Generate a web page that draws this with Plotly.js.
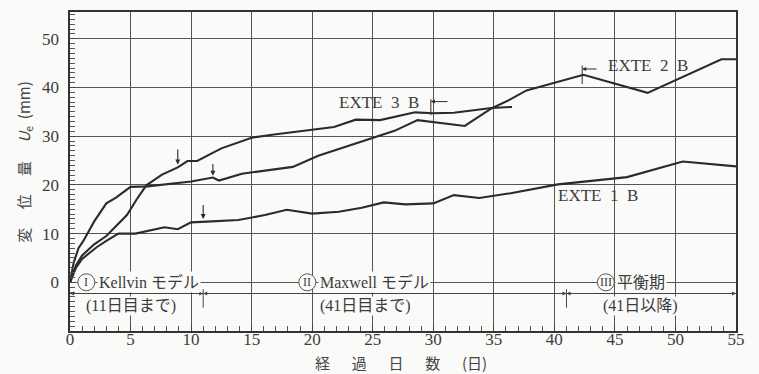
<!DOCTYPE html>
<html>
<head>
<meta charset="utf-8">
<script src="https://cdn.plot.ly/plotly-3.0.1.min.js"></script>
<style>
  html, body { margin: 0; padding: 0; background: #fafaf8; }
  #chart { width: 759px; height: 374px; }
</style>
</head>
<body>
<div id="chart"></div>
<script>
// Elapsed days and displacement U_e (mm) for each extensometer
const days1 = [0, 0.5, 1, 2.2, 3, 4, 5.4, 7.8, 8.9, 10, 11.7, 13.9, 16.1, 17.9, 20, 22.2, 24.1, 25.9, 27.7, 30, 31.7, 33.8, 36.4, 40.3, 46, 50.6, 55];
const disp1 = [0, 3, 4.8, 7.2, 8.5, 10, 10, 11.3, 10.9, 12.3, 12.5, 12.8, 13.8, 14.9, 14.1, 14.5, 15.3, 16.4, 16.0, 16.2, 17.9, 17.3, 18.3, 20.1, 21.6, 24.8, 23.8];

const days2 = [0, 0.3, 0.7, 1.1, 2, 3, 3.8, 5, 6.4, 7.8, 10, 11.8, 12.3, 14.2, 16.1, 18.4, 20.5, 23.3, 26, 26.8, 28.7, 30.4, 32.6, 34.8, 36.4, 37.7, 42.4, 47.7, 53.8, 55];
const disp2 = [0, 4, 7, 8.5, 12.5, 16.2, 17.4, 19.6, 19.7, 20.1, 20.7, 21.5, 20.9, 22.3, 22.9, 23.7, 26.0, 28.3, 30.5, 31.1, 33.3, 32.8, 32.1, 35.7, 37.6, 39.4, 42.6, 38.9, 45.8, 45.8];

const days3 = [0, 0.5, 1, 2, 3, 4.2, 4.7, 5.5, 6.3, 7.6, 8.9, 9.7, 10.5, 12.5, 15, 16.7, 20, 21.8, 23.6, 25.6, 28.5, 30, 31.7, 34.8, 36.5];
const disp3 = [0, 3.5, 5.5, 7.8, 9.5, 12.5, 13.8, 17, 19.9, 22.1, 23.6, 24.9, 24.9, 27.5, 29.7, 30.3, 31.4, 31.9, 33.4, 33.3, 34.9, 34.7, 34.8, 35.8, 36.0];

const seriesNames = ['EXTE 1 B', 'EXTE 2 B', 'EXTE 3 B'];
const xTicks = [0, 5, 10, 15, 20, 25, 30, 35, 40, 45, 50, 55];
const yTicks = [0, 10, 20, 30, 40, 50];

// Model-change markers on each curve: [day, arrow tip, arrow tail]
const changeMarks = [[8.9, 24.2, 27.6], [11.8, 21.9, 24.6], [11.0, 13.0, 16.2]];

// Period boundaries (days) and period labels
const periodBounds = [0, 11, 41, 55];
const periodNumerals = ['I', 'II', 'III'];
const periodNames = ['Kellvin モデル', 'Maxwell モデル', '平衡期'];
const periodRanges = ['(11日目まで)', '(41日目まで)', '(41日以降)'];

const INK = '#2b2b2b';
const TXT = '#3c3c3c';
const BG = '#fafaf8';
const SERIF = 'Liberation Serif, Noto Sans CJK JP, serif';
const GOTHIC = 'Noto Sans CJK JP, sans-serif';

const lineStyle = { color: INK, width: 2.1 };
const traces = [
  { x: days1, y: disp1, name: seriesNames[0], mode: 'lines', line: lineStyle },
  { x: days2, y: disp2, name: seriesNames[1], mode: 'lines', line: lineStyle },
  { x: days3, y: disp3, name: seriesNames[2], mode: 'lines', line: lineStyle }
];

const annotations = [];
const shapes = [];

// downward arrows at the end of the Kelvin stage
changeMarks.forEach(m => {
  annotations.push({
    x: m[0], y: m[1], ax: m[0], ay: m[2], axref: 'x', ayref: 'y',
    xref: 'x', yref: 'y', text: '', showarrow: true,
    arrowhead: 2, arrowsize: 0.9, arrowwidth: 1.1, arrowcolor: INK, standoff: 0
  });
});

// series labels
const labelFont = { family: SERIF, size: 17, color: TXT };
annotations.push({ x: 25.5, y: 36.9, xref: 'x', yref: 'y', text: 'EXTE\u20023\u2002B', showarrow: false, font: labelFont });
annotations.push({ x: 47.7, y: 44.6, xref: 'x', yref: 'y', text: 'EXTE\u20022\u2002B', showarrow: false, font: labelFont });
annotations.push({ x: 43.6, y: 17.9, xref: 'x', yref: 'y', text: 'EXTE\u20021\u2002B', showarrow: false, font: labelFont });

// end-of-data ticks with short left arrows
[[29.8, 34.3, 37.6, 37.1, 31.3], [42.3, 40.7, 44.5, 43.8, 43.6]].forEach(t => {
  shapes.push({ type: 'line', xref: 'x', yref: 'y', x0: t[0], x1: t[0], y0: t[1], y1: t[2], line: { color: INK, width: 1 } });
  annotations.push({
    x: t[0], y: t[3], ax: t[4], ay: t[3], axref: 'x', ayref: 'y', xref: 'x', yref: 'y',
    text: '', showarrow: true, arrowhead: 2, arrowsize: 0.8, arrowwidth: 1, arrowcolor: INK, standoff: 0
  });
});

// period span line with boundary ticks
const spanY = -2.3;
shapes.push({ type: 'line', xref: 'x', yref: 'y', x0: periodBounds[0], x1: periodBounds[3], y0: spanY, y1: spanY, line: { color: '#444', width: 1 } });
[periodBounds[1], periodBounds[2]].forEach(b => {
  shapes.push({ type: 'line', xref: 'x', yref: 'y', x0: b, x1: b, y0: -1.4, y1: -5.2, line: { color: '#444', width: 1 } });
  [b - 1.2, b + 1.2].forEach(a => annotations.push({
    x: b, y: spanY, ax: a, ay: spanY, axref: 'x', ayref: 'y', xref: 'x', yref: 'y',
    text: '', showarrow: true, arrowhead: 2, arrowsize: 0.8, arrowwidth: 1, arrowcolor: '#444', standoff: 0
  }));
});
[[periodBounds[0], 1.2], [periodBounds[3], 53.8]].forEach(p => annotations.push({
  x: p[0], y: spanY, ax: p[1], ay: spanY, axref: 'x', ayref: 'y', xref: 'x', yref: 'y',
  text: '', showarrow: true, arrowhead: 2, arrowsize: 0.8, arrowwidth: 1, arrowcolor: '#444', standoff: 0
}));

// period labels: circled numeral, name, range
const numeralX = [1.35, 19.6, 44.25];
const nameX = [2.25, 20.5, 45.0];
const rangeX = [1.2, 20.6, 43.9];
const periodFont = { family: SERIF, size: 16, color: TXT };
for (let i = 0; i < 3; i++) {
  shapes.push({
    type: 'circle', xref: 'x', yref: 'y', xsizemode: 'pixel', ysizemode: 'pixel',
    xanchor: numeralX[i], yanchor: 0, x0: -8.5, x1: 8.5, y0: -8.5, y1: 8.5,
    fillcolor: BG, line: { color: '#555', width: 1 }, layer: 'above'
  });
  annotations.push({ x: numeralX[i], y: 0, xref: 'x', yref: 'y', text: periodNumerals[i], showarrow: false,
    font: { family: SERIF, size: 12, color: TXT } });
  annotations.push({ x: nameX[i], y: 0, xref: 'x', yref: 'y', xanchor: 'left', text: periodNames[i], showarrow: false,
    font: periodFont, bgcolor: BG, borderpad: 1 });
  annotations.push({ x: rangeX[i], y: -4.8, xref: 'x', yref: 'y', xanchor: 'left', text: periodRanges[i], showarrow: false,
    font: periodFont, bgcolor: BG, borderpad: 0 });
}

// axis titles, placed in paper coordinates
const titleFont = { family: GOTHIC, size: 15, color: '#444' };
const SP = '\u3000\u00a0';
const SPX = '\u3000\u00a0\u00a0';
annotations.push({
  xref: 'paper', yref: 'paper', x: 0.497, y: -0.1, xanchor: 'center', yanchor: 'middle', showarrow: false,
  text: '経' + SPX + '過' + SPX + '日' + SPX + '数' + SPX + '(日)', font: titleFont
});
annotations.push({
  xref: 'paper', yref: 'paper', x: -0.068, y: 0.53, xanchor: 'center', yanchor: 'middle', showarrow: false,
  textangle: -90, text: '変' + SP + '位' + SP + '量' + SP + '<i>U</i><sub>e</sub>\u00a0\u00a0(mm)', font: titleFont
});

const layout = {
  width: 759, height: 374,
  margin: { l: 70, r: 23, t: 12, b: 43 },
  paper_bgcolor: BG, plot_bgcolor: BG,
  showlegend: false,
  xaxis: {
    range: [0, 55], tickmode: 'array', tickvals: xTicks,
    showgrid: true, gridcolor: '#555', gridwidth: 1, zeroline: false,
    showline: true, linecolor: '#333', linewidth: 1.6, mirror: true,
    ticks: 'inside', ticklen: 6, tickcolor: '#444',
    minor: { tickmode: 'linear', tick0: 0, dtick: 1, ticks: 'inside', ticklen: 5, tickcolor: '#555', showgrid: false },
    tickfont: { family: SERIF, size: 17, color: TXT },
    ticklabelstandoff: -8
  },
  yaxis: {
    range: [-10, 55.5], tickmode: 'array', tickvals: yTicks,
    showgrid: true, gridcolor: '#555', gridwidth: 1, zeroline: false,
    showline: true, linecolor: '#333', linewidth: 1.6, mirror: true,
    ticks: 'inside', ticklen: 5, tickcolor: '#444',
    minor: { tickmode: 'linear', tick0: 0, dtick: 1, ticks: 'inside', ticklen: 5, tickcolor: '#555', showgrid: false },
    tickfont: { family: SERIF, size: 17, color: TXT },
    ticklabelstandoff: 6
  },
  annotations: annotations,
  shapes: shapes
};

Plotly.newPlot('chart', traces, layout, { displayModeBar: false, staticPlot: true });
</script>
</body>
</html>
